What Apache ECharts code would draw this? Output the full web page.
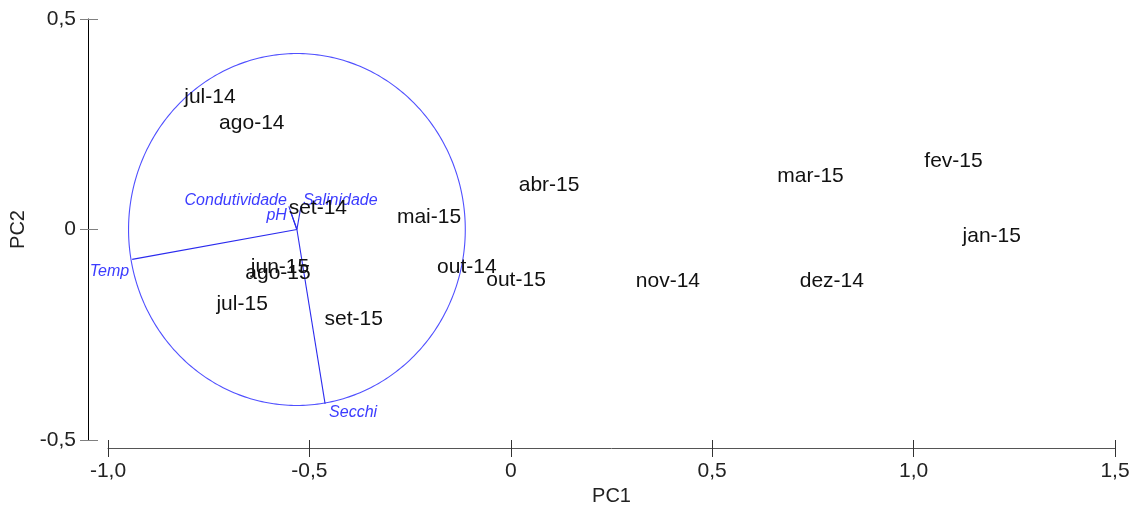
<!DOCTYPE html>
<html>
<head>
<meta charset="utf-8">
<script src="https://cdn.jsdelivr.net/npm/echarts@6/dist/echarts.min.js"></script>
<style>
html,body{margin:0;padding:0;background:#fff;}
#chart{width:1136px;height:508px;}
</style>
</head>
<body>
<div id="chart"></div>
<script>
// ---- data (PCA scores) ----
const samples = ['jul-14','ago-14','set-14','mai-15','abr-15','mar-15','fev-15','jan-15','dez-14','nov-14','out-15','out-14','set-15','jul-15','jun-15','ago-15'];
const pc1 = [-0.747,-0.643,-0.479,-0.203,0.095,0.744,1.099,1.194,0.797,0.390,0.013,-0.109,-0.390,-0.667,-0.573,-0.578];
const pc2 = [0.317,0.255,0.052,0.031,0.107,0.129,0.164,-0.014,-0.121,-0.121,-0.117,-0.088,-0.210,-0.174,-0.088,-0.102];

// ---- loadings (biplot vectors) ----
const variables = ['Condutividade','Salinidade','pH','Temp','Secchi'];
const loadX = [-0.020, 0.010, -0.015, -0.409, 0.070];
const loadY = [0.055, 0.055, 0.040, -0.071, -0.414];
const vectorOrigin = [-0.531, 0];
const circleRadius = 0.418;

// ---- axis ticks ----
const xTicks = [-1.0, -0.5, 0, 0.5, 1.0, 1.5];
const yTicks = [-0.5, 0, 0.5];

function fmt(v){ return v === 0 ? '0' : v.toFixed(1).replace('.', ','); }

const labelPlacement = {
  Condutividade: ['right','bottom', -2, 2],
  Salinidade: ['left','bottom', 2, 2],
  pH: ['right','middle', -4, 3],
  Temp: ['right','top', -3, 4],
  Secchi: ['left','top', 4, 1]
};

const font = "'Liberation Sans', Arial, sans-serif";
const vecColor = '#2a2aee';
const circColor = '#5050ff';
const vecLabelColor = '#3c3cff';

const chart = echarts.init(document.getElementById('chart'), null, {renderer:'canvas'});

const xBase = {
  type:'value', min: xTicks[0], max: xTicks[xTicks.length-1], interval: 0.5,
  position:'bottom', offset: 8, splitLine:{show:false}
};
const yBase = {
  type:'value', min: yTicks[0], max: yTicks[yTicks.length-1], interval: 0.5,
  position:'left', offset: 20, splitLine:{show:false}
};

const option = {
  animation:false,
  backgroundColor:'#fff',
  grid:{left:108, right:21, top:19, bottom:68, containLabel:false, outerBoundsMode:'none'},
  xAxis:[
    Object.assign({}, xBase, {
      name:'PC1', nameLocation:'middle', nameGap:36,
      nameTextStyle:{fontFamily:font, fontSize:20, color:'#222'},
      axisLine:{show:true, onZero:false, lineStyle:{color:'#555', width:1}},
      axisTick:{show:true, inside:false, length:9, lineStyle:{color:'#333'}},
      axisLabel:{show:true, margin:13, fontFamily:font, fontSize:21, color:'#222', formatter: fmt}
    }),
    Object.assign({}, xBase, {
      axisLine:{show:false, onZero:false},
      axisTick:{show:true, inside:true, length:8, lineStyle:{color:'#333'}},
      axisLabel:{show:false}
    })
  ],
  yAxis:[
    Object.assign({}, yBase, {
      name:'PC2', nameLocation:'middle', nameGap:56, nameRotate:90,
      nameTextStyle:{fontFamily:font, fontSize:20, color:'#222'},
      axisLine:{show:true, onZero:false, lineStyle:{color:'#000', width:1}},
      axisTick:{show:true, inside:false, length:8, lineStyle:{color:'#808080'}},
      axisLabel:{show:true, margin:12, fontFamily:font, fontSize:21, color:'#222', formatter: fmt}
    }),
    Object.assign({}, yBase, {
      axisLine:{show:false, onZero:false},
      axisTick:{show:true, inside:true, length:10, lineStyle:{color:'#808080'}},
      axisLabel:{show:false}
    })
  ],
  series:[
    {
      type:'custom', name:'circle', xAxisIndex:0, yAxisIndex:0,
      data:[[vectorOrigin[0], vectorOrigin[1], circleRadius]],
      renderItem: function(params, api){
        const c = api.coord([api.value(0), api.value(1)]);
        const r = api.value(2);
        const rx = api.size([r, 0])[0];
        const ry = api.size([0, r])[1];
        const pts = [];
        for (let i = 0; i <= 360; i++) {
          const a = i * Math.PI / 180;
          pts.push([c[0] + rx*Math.cos(a), c[1] + ry*Math.sin(a)]);
        }
        return {type:'polyline', shape:{points:pts}, style:{stroke:circColor, lineWidth:1.1, fill:null}};
      },
      silent:true, z:1
    },
    {
      type:'custom', name:'vectors', xAxisIndex:0, yAxisIndex:0,
      data: variables.map((v,i)=>[loadX[i], loadY[i]]),
      renderItem: function(params, api){
        const o = api.coord(vectorOrigin);
        const e = api.coord([vectorOrigin[0] + api.value(0), vectorOrigin[1] + api.value(1)]);
        const name = variables[params.dataIndex];
        const p = labelPlacement[name];
        return {type:'group', children:[
          {type:'line', shape:{x1:o[0], y1:o[1], x2:e[0], y2:e[1]}, style:{stroke:vecColor, lineWidth:1.1}},
          {type:'text', x:e[0] + p[2], y:e[1] + p[3], style:{text:name, align:p[0], verticalAlign:p[1],
            fill:vecLabelColor, font:'italic 16px ' + font}}
        ]};
      },
      silent:true, z:2
    },
    {
      type:'custom', name:'samples', xAxisIndex:0, yAxisIndex:0,
      data: samples.map((s,i)=>[pc1[i], pc2[i]]),
      renderItem: function(params, api){
        const p = api.coord([api.value(0), api.value(1)]);
        return {type:'text', x:p[0], y:p[1] + 1, style:{text:samples[params.dataIndex], align:'center',
          verticalAlign:'middle', fill:'#111', font:'21px ' + font}};
      },
      silent:true, z:3
    }
  ]
};
chart.setOption(option);
</script>
</body>
</html>
